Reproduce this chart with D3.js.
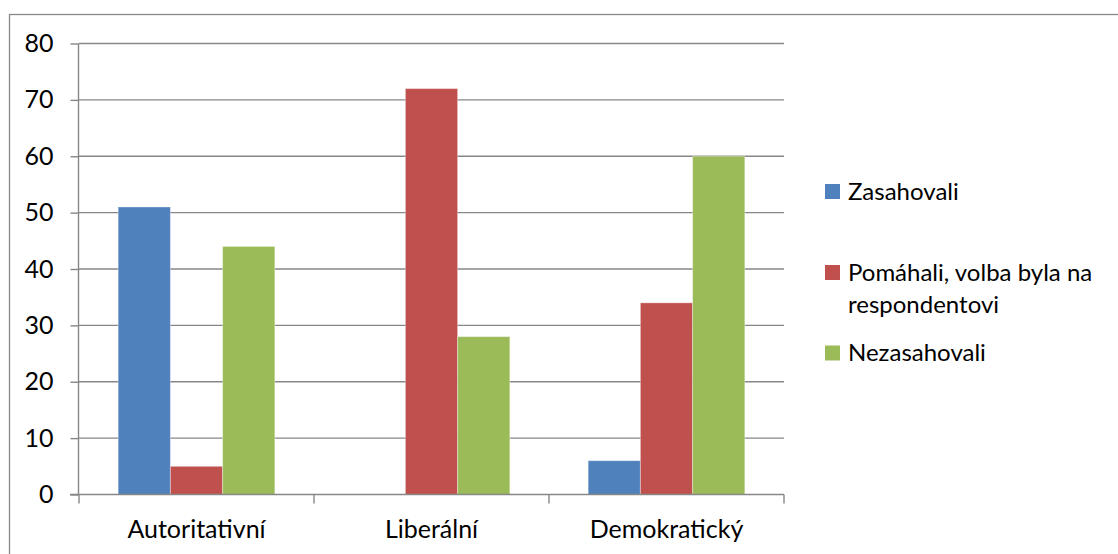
<!DOCTYPE html>
<html><head><meta charset="utf-8">
<script src="https://cdn.jsdelivr.net/npm/d3@7"></script>
<style>body{margin:0;background:#fff}svg{display:block}text{font-family:Lato,"Open Sans",sans-serif;fill:#000}</style>
</head><body><svg id="c" width="1118" height="554"></svg>
<script>
const categories = ["Autoritativní", "Liberální", "Demokratický"];
const seriesNames = ["Zasahovali", "Pomáhali, volba byla na respondentovi", "Nezasahovali"];
const legendLines = [["Zasahovali"], ["Pomáhali, volba byla na", "respondentovi"], ["Nezasahovali"]];
const zasahovali = [51, 0, 6];
const pomahali = [5, 72, 34];
const nezasahovali = [44, 28, 60];
const colors = ["#4F81BD", "#C0504D", "#9BBB59"];
const yTicks = [0, 10, 20, 30, 40, 50, 60, 70, 80];

const values = [zasahovali, pomahali, nezasahovali];
const svg = d3.select("#c");
const fs = 25;

svg.append("rect").attr("x", 9.5).attr("y", 14.5).attr("width", 1200).attr("height", 600)
  .attr("fill", "none").attr("stroke", "#888").attr("stroke-width", 1.3);

const x0 = d3.scaleBand().domain(categories).range([79, 784]).paddingInner(0).paddingOuter(0);
const x1 = d3.scaleBand().domain(d3.range(3)).range([0, x0.bandwidth()]).paddingInner(0).paddingOuter(0.75);
const y = d3.scaleLinear().domain([0, 80]).range([494.5, 43.5]);

// gridlines
svg.append("g").selectAll("line").data(yTicks.filter(d => d > 0)).join("line")
  .attr("x1", 79).attr("x2", 784).attr("y1", d => y(d)).attr("y2", d => y(d))
  .attr("stroke", "#878787").attr("stroke-width", 1.4);

// bars
const g = svg.append("g");
categories.forEach((c, ci) => {
  values.forEach((arr, si) => {
    const v = arr[ci];
    if (v <= 0) return;
    g.append("rect").attr("x", x0(c) + x1(si)).attr("width", x1.bandwidth())
      .attr("y", y(v)).attr("height", y(0) - y(v))
      .attr("fill", colors[si]).attr("stroke", "rgba(255,255,255,0.35)").attr("stroke-width", 1);
  });
});

// y axis
const ya = svg.append("g").attr("transform", "translate(78.5,0)")
  .call(d3.axisLeft(y).tickValues(yTicks).tickSize(8).tickPadding(17));
ya.select(".domain").attr("stroke", "#878787").attr("stroke-width", 1.4).attr("d", `M0,${y(80)}V${y(0)}`);
ya.selectAll(".tick line").attr("stroke", "#878787").attr("stroke-width", 1.4);
ya.selectAll(".tick text").attr("font-size", fs).attr("font-family", "Lato").attr("fill", "#000");

// x axis
const xa = svg.append("g").attr("transform", `translate(0,${y(0)})`)
  .call(d3.axisBottom(x0).tickSize(0).tickPadding(0));
xa.select(".domain").remove();
xa.selectAll(".tick text").attr("font-size", fs).attr("font-family", "Lato").attr("fill", "#000")
  .attr("dy", null).attr("y", 538 - y(0));
svg.append("line").attr("x1", 70).attr("x2", 784).attr("y1", y(0)).attr("y2", y(0))
  .attr("stroke", "#878787").attr("stroke-width", 1.4);
const bounds = categories.map(c => x0(c)).concat([x0.range()[1]]);
svg.append("g").selectAll("line").data(bounds).join("line")
  .attr("x1", d => d).attr("x2", d => d).attr("y1", y(0)).attr("y2", y(0) + 9)
  .attr("stroke", "#878787").attr("stroke-width", 1.4);

// legend
const lg = svg.append("g");
const sqY = [191.5, 272.5, 353];
const baseY = [200, 281, 361];
legendLines.forEach((lines, i) => {
  lg.append("rect").attr("x", 825).attr("y", sqY[i] - 7.5).attr("width", 15).attr("height", 15).attr("fill", colors[i]);
  lines.forEach((t, j) => {
    lg.append("text").attr("x", 848).attr("y", baseY[i] + j * 32)
      .attr("font-size", 24).text(t);
  });
});
</script></body></html>
